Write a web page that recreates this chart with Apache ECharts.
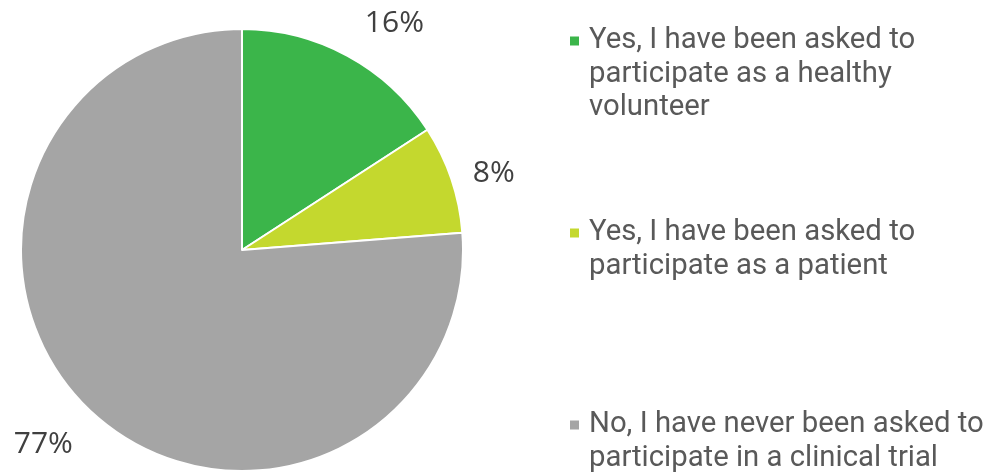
<!DOCTYPE html>
<html>
<head>
<meta charset="utf-8">
<script src="https://cdn.jsdelivr.net/npm/echarts@6/dist/echarts.min.js"></script>
<style>
html,body{margin:0;padding:0;background:#fff;}
#chart{width:990px;height:473px;}
</style>
</head>
<body>
<div id="chart"></div>
<script>
const categories = [
  'Yes, I have been asked to participate as a healthy volunteer',
  'Yes, I have been asked to participate as a patient',
  'No, I have never been asked to participate in a clinical trial'
];
const legendLines = [
  ['Yes, I have been asked to', 'participate as a healthy', 'volunteer'],
  ['Yes, I have been asked to', 'participate as a patient'],
  ['No, I have never been asked to', 'participate in a clinical trial']
];
const values = [16, 8, 77];
const colors = ['#3bb54a', '#c4d82e', '#a5a5a5'];

// layout (not data)
const LINE_H = 33.5;
const markerCenters = [41, 233, 425];
const labelNudge = [[24, 10], [-3, 10], [-16, -3]];

const legends = categories.map((name, i) => {
  const lines = legendLines[i];
  const n = lines.length;
  const padded = new Array(n - 1).fill('').concat(lines).join('\n');
  const total = (2 * n - 1) * LINE_H;
  return {
    orient: 'vertical',
    left: 568,
    top: markerCenters[i] - total / 2 - 3,
    padding: 0,
    icon: 'rect',
    itemWidth: 11,
    itemHeight: 11,
    selectedMode: false,
    data: [name],
    formatter: () => padded,
    textStyle: {
      fontFamily: 'Roboto',
      fontSize: 29.3,
      color: '#595959',
      lineHeight: LINE_H,
      padding: [6, 0, 0, 4]
    }
  };
});

const chart = echarts.init(document.getElementById('chart'), null, {renderer: 'canvas'});
chart.setOption({
  animation: false,
  backgroundColor: '#ffffff',
  color: colors,
  legend: legends,
  series: [{
    type: 'pie',
    center: [242, 250],
    radius: 221,
    startAngle: 90,
    clockwise: true,
    avoidLabelOverlap: false,
    itemStyle: {borderColor: '#ffffff', borderWidth: 2},
    label: {
      show: true,
      position: 'outside',
      formatter: '{c}%',
      fontFamily: 'Open Sans',
      fontSize: 30,
      color: '#404040',
      distanceToLabelLine: 0
    },
    labelLine: {show: false, length: 48, length2: 0},
    labelLayout: (p) => ({
      align: 'center',
      verticalAlign: 'middle',
      dx: labelNudge[p.dataIndex][0],
      dy: labelNudge[p.dataIndex][1]
    }),
    emphasis: {disabled: true},
    data: categories.map((c, i) => ({name: c, value: values[i]}))
  }]
});
</script>
</body>
</html>
